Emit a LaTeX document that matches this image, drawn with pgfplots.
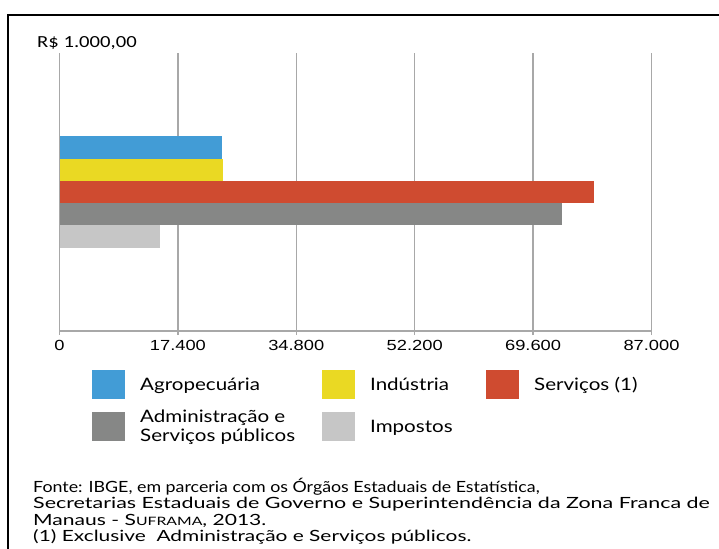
\documentclass[border=0pt]{standalone}
\usepackage{graphicx}
\usepackage{pgfplots}
\pgfplotsset{compat=1.18}
\usepackage{fontspec}
\setmainfont{Lato}
\newfontfamily\tickfont[FakeStretch=1.25]{Liberation Sans}
\newfontfamily\unitfont[FakeStretch=1.22]{Carlito}
\newfontfamily\legfont[FakeStretch=1.2]{Lato}
\newfontfamily\srcfont[FakeStretch=1.24]{Lato}
\definecolor{cblue}{HTML}{429CD6}
\definecolor{cyellow}{HTML}{EAD923}
\definecolor{cred}{HTML}{CF4B30}
\definecolor{cgray}{HTML}{868786}
\definecolor{clight}{HTML}{C6C6C6}
\definecolor{gridgray}{HTML}{A8A8A8}
\begin{document}
\begin{tikzpicture}
\path[use as bounding box] (0bp,0bp) rectangle (719bp,-549bp);
\draw[line width=2.5bp] (8bp,-549bp) -- (8bp,-15bp) -- (719bp,-15bp);
\node[anchor=base west, inner sep=0pt, font=\unitfont\fontsize{17}{20}\selectfont] at (37bp,-47bp) {R\$ 1.000,00};
\begin{axis}[
  at={(59.5bp,-331bp)}, anchor=south west,
  width=592bp, height=278bp, scale only axis,
  xmin=0, xmax=87000, ymin=-6.25, ymax=6.25,
  axis x line*=bottom, axis y line=none,
  axis line style={-, draw=gridgray, line width=1.2bp},
  xmajorgrids, grid style={gridgray, line width=1.2bp},
  tick style={gridgray, line width=1.2bp},
  tick align=outside, major tick length=4bp,
  scaled x ticks=false,
  xtick={0,17400,34800,52200,69600,87000},
  xticklabels={0,17.400,34.800,52.200,69.600,87.000},
  xticklabel style={font=\tickfont\fontsize{14.7}{17}\selectfont, text=black, inner sep=2bp, yshift=-3.5bp},
  ytick=\empty,
  xbar, bar width=1, bar shift=0pt,
  clip=false,
  legend columns=3,
  legend style={at={(0.0549,-0.1403)}, anchor=north west, draw=none, fill=none,
    inner sep=0pt, font=\legfont\fontsize{17.2}{19}\selectfont,
    cells={anchor=west, align=left}, nodes={inner sep=0pt},
    /tikz/column sep=0pt,
    /tikz/every odd column/.append style={column sep=15bp},
    /tikz/every even column/.append style={column sep=27bp},
    /tikz/row sep=11bp},
  legend image code/.code={\draw[#1, draw=none] (0bp,-14.5bp) rectangle (33bp,14.5bp);},
]
\addplot[fill=cblue, draw=none] coordinates {(23900,2)};
\addlegendentry{Agropecuária}
\addplot[fill=cyellow, draw=none] coordinates {(24000,1)};
\addlegendentry{\makebox[89bp][l]{Indústria}}
\addplot[fill=cred, draw=none] coordinates {(78500,0)};
\addlegendentry{Serviços (1)}
\addplot[fill=cgray, draw=none] coordinates {(73900,-1)};
\addlegendentry{Administração e\\Serviços públicos}
\addplot[fill=clight, draw=none] coordinates {(14800,-2)};
\addlegendentry{Impostos}
\end{axis}
\begin{scope}[every node/.style={anchor=base west, inner sep=0pt, font=\srcfont\fontsize{15.5}{16.3}\selectfont}]
\node at (33bp,-492bp) {\scalebox{0.93}[1]{Fonte: IBGE, em parceria com os Órgãos Estaduais de Estatística,}};
\node at (33bp,-508.5bp) {\scalebox{1.12}[1]{Secretarias Estaduais de Governo e Superintendência da Zona Franca de}};
\node at (33bp,-525bp) {\scalebox{1.10}[1]{Manaus - S{\fontsize{11.6}{14}\selectfont UFRAMA}, 2013.}};
\node at (33bp,-541.5bp) {\scalebox{1.09}[1]{(1) Exclusive~ Administração e Serviços públicos.}};
\end{scope}
\end{tikzpicture}
\end{document}
